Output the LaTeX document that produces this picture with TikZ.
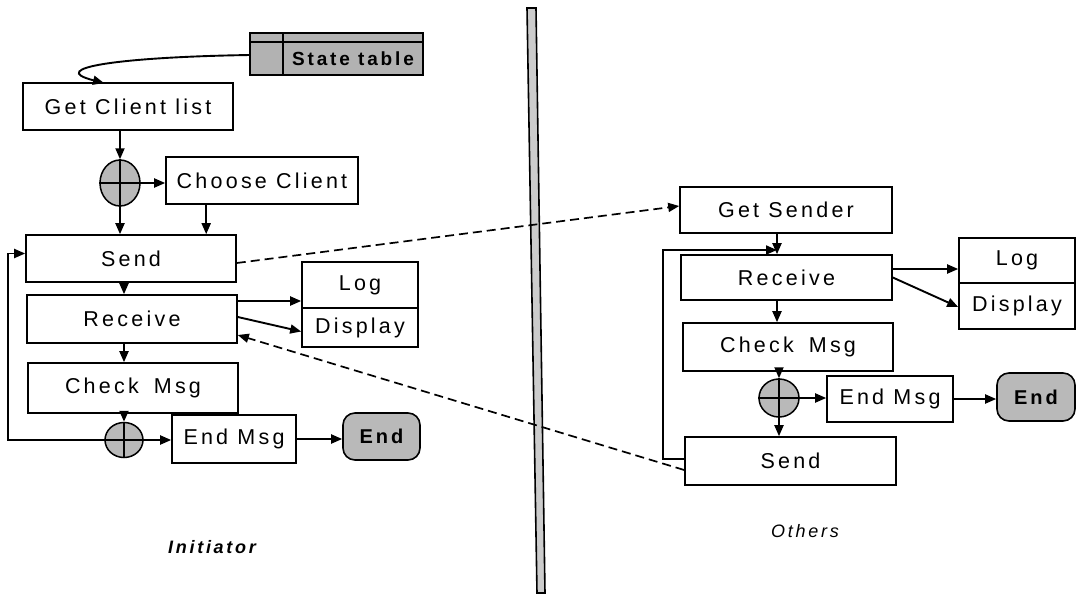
\documentclass[tikz,border=0pt]{standalone}
\usepackage{fontspec}
\newfontfamily\diafont{Liberation Sans}[LetterSpace=15]
\usetikzlibrary{arrows.meta,shapes.geometric,calc}
\tikzset{
  sz/.style 2 args={minimum width=#1pt, minimum height=#2pt},
  box/.style={draw, line width=1.6pt, fill=white, inner sep=0pt,
    font=\diafont\fontsize{21.5}{24}\selectfont},
  endbox/.style={box, rounded corners=12pt, fill=gray!55,
    font=\diafont\bfseries\fontsize{20}{24}\selectfont},
  junct/.style={ellipse, draw, line width=1.5pt, fill=gray!55, inner sep=0pt},
  tip/.style={-{Triangle[length=11pt,width=9pt]}},
  arr/.style={line width=1.9pt, tip},
  msg/.style={line width=1.7pt, dash pattern=on 9pt off 5pt, tip},
  caption/.style={font=\diafont\itshape\fontsize{18}{22}\selectfont}
}
\begin{document}
\begin{tikzpicture}[x=1pt,y=-1pt]
\useasboundingbox (0,0) rectangle (1077,595);

% dividing bar between the two roles
\draw[line width=1.6pt, fill=gray!40] (527,8) -- (536,8) -- (545,593) -- (537,593) -- cycle;

% ---------- Initiator ----------
\draw[line width=1.6pt, fill=gray!60] (250,33) rectangle (423,75);
\draw[line width=1.2pt] (250,42) -- (423,42) (283,33) -- (283,75);
\node[font=\diafont\bfseries\fontsize{19}{22}\selectfont, inner sep=0pt] (stab) at (353,59) {State table};
\coordinate (stabin) at (250,55);

\node[box, sz={210}{47}] (gcl) at (128,106.5) {Get Client list};
\node[junct, sz={40}{46}] (c1) at (120,183) {};
\draw[line width=1.1pt] (c1.north) -- (c1.south) (c1.west) -- (c1.east);
\node[box, sz={192}{47}] (choose) at (262,180.5) {Choose Client};
\node[box, sz={210}{47}] (lsend) at (131,258.5) {Send};
\node[box, sz={210}{48}] (lrecv) at (132,319) {Receive};
\node[box, sz={210}{50}] (lcheck) at (133,388) {Check\hspace{0.7em}Msg};
\node[junct, sz={38}{35}] (c2) at (124,440) {};
\draw[line width=1.1pt] (c2.north) -- (c2.south) (c2.west) -- (c2.east);
\node[box, sz={124}{48}] (lendmsg) at (234,439) {End Msg};
\node[endbox, sz={77}{47}] (lend) at (381.5,436.5) {End};
\node[box, sz={116}{46}] (llog) at (360,285) {Log};
\node[box, sz={116}{39}] (ldisp) at (360,327.5) {Display};

\coordinate (gclin) at (104,83);
\draw[arr] (stabin) .. controls (120,57) and (45,68) .. (gclin);
\draw[arr] (gcl.south -| c1.north) -- (c1.north);
\draw[arr] (c1.east) -- (c1.east -| choose.west);
\draw[arr] (c1.south) -- (c1.south |- lsend.north);
\coordinate (chout) at ($(choose.south west)+(41,0)$);
\draw[arr] (chout) -- (chout |- lsend.north);
\draw[arr] (lsend.south -| c2) -- (lrecv.north -| c2);
\draw[arr] (lrecv.south -| c2) -- (lcheck.north -| c2);
\draw[arr] (lcheck.south -| c2) -- (c2.north);
\draw[arr] (c2.east) -- (c2.east -| lendmsg.west);
\draw[arr] (lendmsg.east) -- (lendmsg.east -| lend.west);
\draw[arr] ([yshift=18pt]lrecv.east) -- ([yshift=18pt]lrecv.east -| llog.west);
\draw[arr] ([yshift=2pt]lrecv.east) -- ([yshift=-4pt]ldisp.west);
\draw[arr] (c2.west) -- (8,440) |- ([yshift=5pt]lsend.west);

\node[caption, font=\diafont\bfseries\itshape\fontsize{18}{22}\selectfont] (lcap) at (212,547) {Initiator};

% ---------- Others ----------
\node[box, sz={212}{46}] (gsend) at (786,210) {Get Sender};
\node[box, sz={211}{45}] (rrecv) at (786.5,277.5) {Receive};
\node[box, sz={210}{48}] (rcheck) at (788,347) {Check\hspace{0.7em}Msg};
\node[junct, sz={40}{38}] (c3) at (779,398) {};
\draw[line width=1.1pt] (c3.north) -- (c3.south) (c3.west) -- (c3.east);
\node[box, sz={126}{46}] (rendmsg) at (890,399) {End Msg};
\node[endbox, sz={78}{48}] (rend) at (1036,397) {End};
\node[box, sz={211}{48}] (rsend) at (790.5,461) {Send};
\node[box, sz={116}{45}] (rlog) at (1017,260.5) {Log};
\node[box, sz={116}{46}] (rdisp) at (1017,306) {Display};

\coordinate (rin) at (777,250);
\draw[arr] (gsend.south -| rin) -- (rrecv.north -| rin);
\draw[arr] ([yshift=2pt]rsend.west) -- (663,459) |- (rin);
\draw[arr] (rrecv.south -| rin) -- (rcheck.north -| rin);
\draw[arr] (rcheck.south -| c3) -- (c3.north);
\draw[arr] (c3.south) -- (c3.south |- rsend.north);
\draw[arr] (c3.east) -- (c3.east -| rendmsg.west);
\draw[arr] (rendmsg.east) -- (rendmsg.east -| rend.west);
\draw[arr] ([yshift=8.5pt]rrecv.east) -- ([yshift=8.5pt]rrecv.east -| rlog.west);
\draw[arr] (rrecv.east) -- ([yshift=-1pt]rdisp.west);

\node[caption] (rcap) at (805,531) {Others};

% ---------- messages between the roles ----------
\draw[msg] ([yshift=-4.5pt]lsend.east) -- ([yshift=4pt]gsend.west);
\draw[msg] ([yshift=-9pt]rsend.west) -- ([yshift=-16pt]lrecv.east);
\end{tikzpicture}
\end{document}
